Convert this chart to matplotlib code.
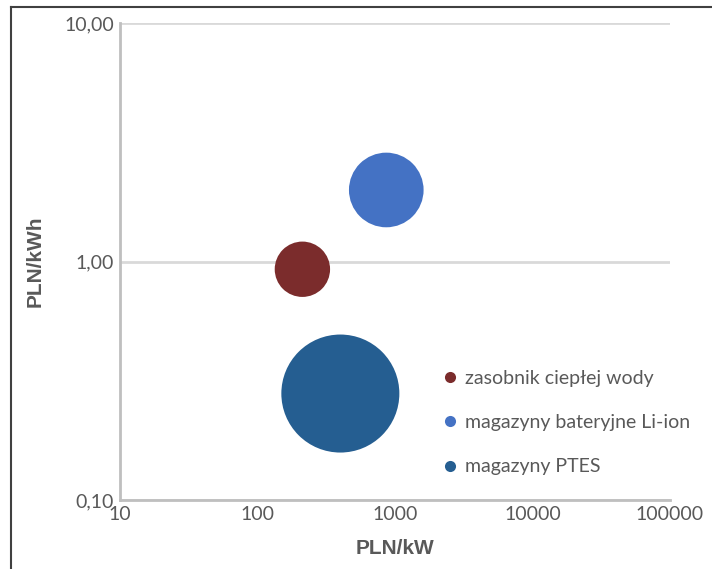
import matplotlib.pyplot as plt
from matplotlib.lines import Line2D

names = ["zasobnik ciepłej wody", "magazyny bateryjne Li-ion", "magazyny PTES"]
pln_kw = [213, 867, 402]
pln_kwh = [0.93, 2.0, 0.28]
bubble = [22, 40, 100]
colors = ["#7b2c2c", "#4472c4", "#255e91"]

x_ticks = [10, 100, 1000, 10000, 100000]
y_ticks = [0.1, 1, 10]
y_labels = ["0,10", "1,00", "10,00"]

plt.rcParams["font.family"] = ["Lato", "DejaVu Sans"]
grey = "#595959"

fig = plt.figure(figsize=(7.12, 5.69), dpi=100)
ax = fig.add_axes([0.168, 0.121, 0.773, 0.838])

for i in range(len(names)):
    ax.scatter(pln_kw[i], pln_kwh[i], s=bubble[i] * 72.2, color=colors[i],
               edgecolors="none", zorder=3)

ax.set_xscale("log")
ax.set_yscale("log")
ax.set_xlim(10, 100000)
ax.set_ylim(0.1, 10)
ax.set_xticks(x_ticks)
ax.set_xticklabels([str(v) for v in x_ticks])
ax.set_yticks(y_ticks)
ax.set_yticklabels(y_labels)
ax.minorticks_off()
ax.tick_params(length=0, labelsize=14, colors=grey, pad=4)

ax.grid(axis="y", color="#d9d9d9", linewidth=2)
ax.set_axisbelow(True)
for side in ["top", "right"]:
    ax.spines[side].set_visible(False)
for side in ["left", "bottom"]:
    ax.spines[side].set_color("#bfbfbf")
    ax.spines[side].set_linewidth(2)

lab = dict(fontsize=15, fontweight="bold", color=grey,
           family=["Liberation Sans Narrow", "Liberation Sans", "DejaVu Sans"])
ax.set_xlabel("PLN/kW", labelpad=12, **lab)
ax.set_ylabel("PLN/kWh", labelpad=14, **lab)

handles = [Line2D([], [], marker="o", linestyle="none", markersize=8,
                  markerfacecolor=c, markeredgecolor="none") for c in colors]
leg = ax.legend(handles, names, loc="lower left", bbox_to_anchor=(0.55, 0.015),
                frameon=False, fontsize=14, labelspacing=1.4, handletextpad=0.3,
                handlelength=1.0)
for t in leg.get_texts():
    t.set_color(grey)

# outer frame (left and top edges visible)
fig.add_artist(Line2D([11 / 712, 11 / 712], [0, 1 - 7 / 569], color="#404040", linewidth=1.5))
fig.add_artist(Line2D([11 / 712, 1], [1 - 7 / 569, 1 - 7 / 569], color="#404040", linewidth=1.5))

fig.savefig("out.png", dpi=100)
